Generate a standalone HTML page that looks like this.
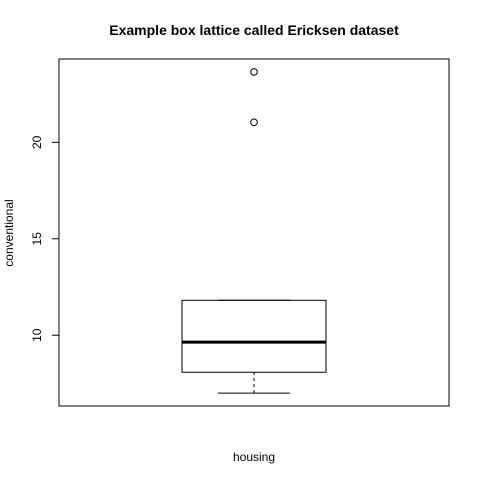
<!DOCTYPE html>
<html><head><meta charset="utf-8"><style>
body{margin:0;background:#fff;}
svg text{font-family:"Liberation Sans",sans-serif;}
</style></head><body>
<svg id="chart" width="480" height="480" xmlns="http://www.w3.org/2000/svg">
<rect width="480" height="480" fill="#fff"/>
<text x="254" y="35" text-anchor="middle" font-size="14" font-weight="bold">Example box lattice called Ericksen dataset</text>
<rect x="59" y="59" width="390" height="347" fill="none" stroke="#000"/>
<text x="254" y="461" text-anchor="middle" font-size="12">housing</text>
<text transform="translate(13,233) rotate(-90)" text-anchor="middle" font-size="12">conventional</text>
<g id="yaxis"></g>
<g id="box"></g>
</svg>
<script>
const yTicks=[10,15,20];
const stats=[7.0,8.08,9.64,11.81,11.81]; // min, q1, median, q3, max
const outliers=[21.04,23.65];
{
const yMin=6.33,yMax=24.32,yTop=59,yBot=406;
const cx=254;
function y(v){return yBot-(v-yMin)/(yMax-yMin)*(yBot-yTop);}
const NS="http://www.w3.org/2000/svg";
function mk(t,a,p){const e=document.createElementNS(NS,t);for(const k in a)e.setAttribute(k,a[k]);p.appendChild(e);return e;}
const ya=document.getElementById('yaxis');
mk('line',{x1:59,x2:59,y1:y(yTicks[0]),y2:y(yTicks[yTicks.length-1]),stroke:'#000'},ya);
yTicks.forEach(t=>{
 const l=mk('line',{x1:52,x2:59,y1:y(t),y2:y(t),stroke:'#000'},ya);
 
 
 const tx=mk('text',{transform:`translate(41,${y(t)}) rotate(-90)`,'text-anchor':'middle','font-size':12},ya);
 tx.textContent=t;
 
 
});
const g=document.getElementById('box');
const w=mk('line',{x1:cx,x2:cx,y1:y(stats[0]),y2:y(stats[1]),stroke:'#000','stroke-dasharray':'3,3'},g);


const w2=mk('line',{x1:cx,x2:cx,y1:y(stats[4]),y2:y(stats[3]),stroke:'#000','stroke-dasharray':'3,3'},g);


const c1=mk('line',{x1:218,x2:290,y1:y(stats[0]),y2:y(stats[0]),stroke:'#000'},g);


const c2=mk('line',{x1:218,x2:290,y1:y(stats[4]),y2:y(stats[4]),stroke:'#000'},g);


const r=mk('rect',{x:182,width:144,y:y(stats[3]),height:y(stats[1])-y(stats[3]),fill:'none',stroke:'#000'},g);


const m=mk('line',{x1:182,x2:326,y1:y(stats[2]),y2:y(stats[2]),stroke:'#000','stroke-width':3},g);


outliers.forEach(o=>{
 const c=mk('circle',{cx:cx,cy:y(o),r:3.3,fill:'none',stroke:'#000'},g);
 
 
});
}
</script>
</body></html>
